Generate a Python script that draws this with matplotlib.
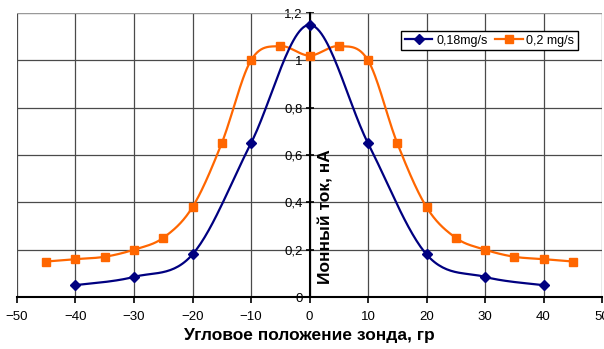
import numpy as np
import matplotlib.pyplot as plt
from matplotlib.ticker import FuncFormatter

# --- data ---
angle_a = [-40, -30, -20, -10, 0, 10, 20, 30, 40]
current_a = [0.05, 0.085, 0.18, 0.65, 1.15, 0.65, 0.18, 0.085, 0.05]

angle_b = [-45, -40, -35, -30, -25, -20, -15, -10, -5, 0, 5, 10, 15, 20, 25, 30, 35, 40, 45]
current_b = [0.15, 0.16, 0.17, 0.20, 0.25, 0.38, 0.65, 1.00, 1.06, 1.02,
             1.06, 1.00, 0.65, 0.38, 0.25, 0.20, 0.17, 0.16, 0.15]

x_ticks = [-50, -40, -30, -20, -10, 0, 10, 20, 30, 40, 50]
y_ticks = [0, 0.2, 0.4, 0.6, 0.8, 1.0, 1.2]


def smooth(x, y, n=30):
    # Catmull-Rom style curve like Excel's smoothed line, passes through the points
    x = np.asarray(x, float)
    y = np.asarray(y, float)
    px = np.concatenate([[x[0]], x, [x[-1]]])
    py = np.concatenate([[y[0]], y, [y[-1]]])
    xs, ys = [], []
    t = np.linspace(0, 1, n)
    for i in range(1, len(px) - 2):
        p0, p1, p2, p3 = (np.array([px[j], py[j]]) for j in range(i - 1, i + 3))
        c1 = p1 + (p2 - p0) / 6
        c2 = p2 - (p3 - p1) / 6
        pts = ((1 - t) ** 3)[:, None] * p1 + (3 * (1 - t) ** 2 * t)[:, None] * c1 \
            + (3 * (1 - t) * t ** 2)[:, None] * c2 + (t ** 3)[:, None] * p2
        xs.extend(pts[:, 0])
        ys.extend(pts[:, 1])
    return xs, ys


plt.rcParams['font.family'] = ['Liberation Sans', 'DejaVu Sans']

fig = plt.figure(figsize=(6.04, 3.49), dpi=100)
ax = fig.add_axes([17 / 604, 52 / 349, 585 / 604, 284 / 349])

blue = '#000080'
orange = '#FF6600'

sx, sy = smooth(angle_a, current_a)
ax.plot(sx, sy, color=blue, lw=1.6, zorder=4)
ax.plot(angle_a, current_a, ls='none', marker='D', ms=5, color=blue, zorder=5)

sx, sy = smooth(angle_b, current_b)
ax.plot(sx, sy, color=orange, lw=1.6, zorder=3)
ax.plot(angle_b, current_b, ls='none', marker='s', ms=6, color=orange, zorder=3)

# legend handles
ax.plot([], [], color=blue, marker='D', ms=5, lw=1.6, label='0,18mg/s')
ax.plot([], [], color=orange, marker='s', ms=6, lw=1.6, label='0,2 mg/s')

ax.set_xlim(-50, 50)
ax.set_ylim(0, 1.2)
ax.set_xticks(x_ticks)
ax.set_yticks(y_ticks)
ax.grid(True, color='#4a4a4a', lw=0.9)
ax.set_axisbelow(True)

ax.spines['left'].set_position(('data', 0))
ax.spines['left'].set_linewidth(1.5)
ax.spines['bottom'].set_linewidth(1.5)
ax.spines['top'].set_visible(False)
ax.spines['right'].set_visible(False)
ax.axhline(1.2, color='#aaaaaa', lw=1.2, zorder=1)

fmt = FuncFormatter(lambda v, p: ('%g' % round(v, 2)).replace('.', ','))
ax.yaxis.set_major_formatter(fmt)
ax.tick_params(axis='x', direction='out', length=4, width=1.2, labelsize=9.5, pad=6)
ax.tick_params(axis='y', direction='inout', length=6, width=1.2, labelsize=9.5, pad=2)

ax.set_xlabel('Угловое положение зонда, гр', fontsize=12.5, fontweight='bold', labelpad=4)
ax.text(2.8, 0.34, 'Ионный ток, нА', rotation=90, fontsize=12.5, fontweight='bold',
        ha='center', va='center')

ax.legend(loc='upper right', bbox_to_anchor=(0.959, 0.937), borderaxespad=0,
          fontsize=9, frameon=True, fancybox=False, edgecolor='black', framealpha=1,
          ncol=2, handlelength=2.2, columnspacing=0.6, handletextpad=0.3, borderpad=0.3)

fig.savefig('out.png', dpi=100)
